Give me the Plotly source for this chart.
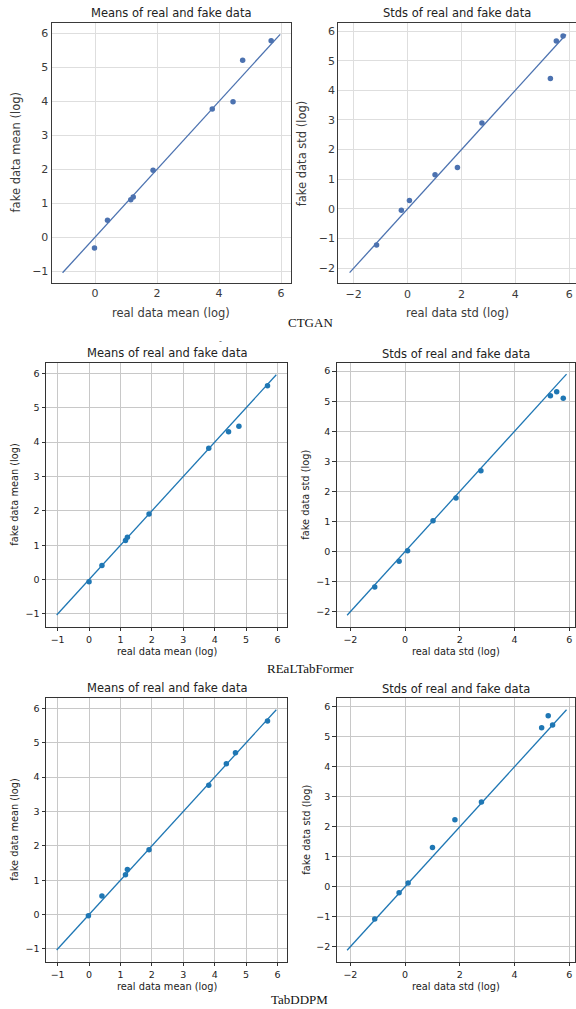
import plotly.graph_objects as go

# ---------------- data ----------------
models = ["CTGAN", "REaLTabFormer", "TabDDPM"]

ctgan_mean_real = [-0.02, 0.40, 1.15, 1.23, 1.87, 3.78, 4.45, 4.76, 5.68]
ctgan_mean_fake = [-0.32, 0.50, 1.10, 1.18, 1.97, 3.77, 3.99, 5.21, 5.78]
ctgan_std_real = [-1.15, -0.23, 0.07, 1.02, 1.85, 2.76, 5.30, 5.52, 5.77]
ctgan_std_fake = [-1.22, -0.05, 0.28, 1.15, 1.40, 2.90, 4.40, 5.66, 5.83]

realtf_mean_real = [0.00, 0.41, 1.16, 1.22, 1.91, 3.81, 4.44, 4.77, 5.68]
realtf_mean_fake = [-0.06, 0.41, 1.14, 1.23, 1.91, 3.82, 4.30, 4.46, 5.64]
realtf_std_real = [-1.11, -0.22, 0.09, 1.02, 1.86, 2.77, 5.31, 5.54, 5.78]
realtf_std_fake = [-1.18, -0.32, 0.03, 1.02, 1.78, 2.69, 5.18, 5.31, 5.10]

tabddpm_mean_real = [-0.02, 0.41, 1.16, 1.22, 1.91, 3.81, 4.37, 4.66, 5.68]
tabddpm_mean_fake = [-0.03, 0.54, 1.16, 1.31, 1.89, 3.76, 4.39, 4.71, 5.63]
tabddpm_std_real = [-1.11, -0.22, 0.11, 1.00, 1.82, 2.79, 4.99, 5.23, 5.39]
tabddpm_std_fake = [-1.08, -0.20, 0.12, 1.31, 2.23, 2.82, 5.30, 5.70, 5.39]

mean_line_1 = [-1.05, 5.97]
std_line_1 = [-2.15, 5.88]
mean_line_2 = [-1.03, 5.96]
std_line_2 = [-2.12, 5.90]
mean_line_3 = [-1.03, 5.96]
std_line_3 = [-2.12, 5.90]

titles = ["Means of real and fake data", "Stds of real and fake data"]
xlabels = ["real data mean (log)", "real data std (log)"]
ylabels = ["fake data mean (log)", "fake data std (log)"]

# ---------------- layout geometry ----------------
W, H = 576, 1009

def px_x(v):
    return v / W

def px_y(v):
    return 1 - v / H

panels = [
    (ctgan_mean_real, ctgan_mean_fake, mean_line_1, 0, 0, (51.7, 290.7), (22.5, 283), (-1.40, 6.31), (-1.35, 6.32), [0, 2, 4, 6], [-1, 0, 1, 2, 3, 4, 5, 6], "sns"),
    (ctgan_std_real, ctgan_std_fake, std_line_1, 0, 1, (338.3, 576), (22.7, 283.3), (-2.57, 6.25), (-2.51, 6.28), [-2, 0, 2, 4, 6], [-2, -1, 0, 1, 2, 3, 4, 5, 6], "sns"),
    (realtf_mean_real, realtf_mean_fake, mean_line_2, 1, 0, (46, 287.3), (362.7, 626.7), (-1.37, 6.31), (-1.37, 6.31), [-1, 0, 1, 2, 3, 4, 5, 6], [-1, 0, 1, 2, 3, 4, 5, 6], "mpl"),
    (realtf_std_real, realtf_std_fake, std_line_2, 1, 1, (336.7, 575.3), (363.3, 626.7), (-2.50, 6.22), (-2.50, 6.26), [-2, 0, 2, 4, 6], [-2, -1, 0, 1, 2, 3, 4, 5, 6], "mpl"),
    (tabddpm_mean_real, tabddpm_mean_fake, mean_line_3, 2, 0, (46, 287.3), (697.7, 961.7), (-1.37, 6.31), (-1.37, 6.31), [-1, 0, 1, 2, 3, 4, 5, 6], [-1, 0, 1, 2, 3, 4, 5, 6], "mpl"),
    (tabddpm_std_real, tabddpm_std_fake, std_line_3, 2, 1, (336.7, 575.3), (698.3, 961.7), (-2.50, 6.22), (-2.50, 6.28), [-2, 0, 2, 4, 6], [-2, -1, 0, 1, 2, 3, 4, 5, 6], "mpl"),
]

fig = go.Figure()
layout = {}
annotations = []
FONT = "DejaVu Sans, Verdana, sans-serif"

for i, (xr, yf, ln, row, col, xd, yd, xrg, yrg, xt, yt, style) in enumerate(panels):
    n = "" if i == 0 else str(i + 1)
    xa, ya = "x" + n, "y" + n
    if style == "sns":
        color = "#4c72b0"
        grid = "#dedede"
        frame = "#3a3a3a"
        tickc = "#3a3a3a"
        tfs, lfs, titfs = 11, 11.5, 11.5
        ticks = ""
        tlen = 0
        fw = 1.3
    else:
        color = "#1f77b4"
        grid = "#c8c8c8"
        frame = "#333333"
        tickc = "#222222"
        tfs, lfs, titfs = 9.5, 9.8, 11.5
        ticks = "outside"
        tlen = 3.5
        fw = 1.0

    fig.add_trace(go.Scatter(x=ln, y=ln, mode="lines", xaxis=xa, yaxis=ya,
                             line=dict(color=color, width=1.3), showlegend=False,
                             hoverinfo="skip"))
    fig.add_trace(go.Scatter(x=xr, y=yf, mode="markers", xaxis=xa, yaxis=ya,
                             marker=dict(color=color, size=5.5, line=dict(width=0)),
                             showlegend=False, cliponaxis=False))

    common = dict(showgrid=True, gridcolor=grid, gridwidth=1, zeroline=False,
                  showline=True, linecolor=frame, linewidth=fw, mirror=True,
                  ticks=ticks, ticklen=tlen, tickwidth=0.8, tickcolor=frame,
                  ticklabeloverflow="allow",
                  tickfont=dict(family=FONT, size=tfs, color=tickc))
    layout["xaxis" + n] = dict(domain=[max(0, px_x(xd[0])), min(1, px_x(xd[1]))], range=list(xrg),
                               anchor=ya, tickvals=xt,
                               ticktext=[str(v).replace("-", "\u2212") for v in xt],
                               **common)
    layout["yaxis" + n] = dict(domain=[max(0, px_y(yd[1])), min(1, px_y(yd[0]))], range=list(yrg),
                               anchor=xa, tickvals=yt,
                               ticktext=[str(v).replace("-", "\u2212") for v in yt],
                               **common)

    cx = (xd[0] + xd[1]) / 2
    annotations.append(dict(text=titles[col], x=px_x(cx), y=px_y(yd[0] - 9.5), xref="paper", yref="paper",
                            xanchor="center", yanchor="middle", showarrow=False,
                            font=dict(family=FONT, size=titfs, color="#222222")))
    xoff = 30 if style == "sns" else 25
    annotations.append(dict(text=xlabels[col], x=px_x(cx), y=px_y(yd[1] + xoff), xref="paper", yref="paper",
                            xanchor="center", yanchor="middle", showarrow=False,
                            font=dict(family=FONT, size=lfs, color=tickc)))
    yoff = 36 if style == "sns" else 31
    annotations.append(dict(text=ylabels[col], x=px_x(xd[0] - yoff), y=px_y((yd[0] + yd[1]) / 2),
                            xref="paper", yref="paper", textangle=-90,
                            xanchor="center", yanchor="middle", showarrow=False,
                            font=dict(family=FONT, size=lfs, color=tickc)))

caption_pos = [(310, 323), (310, 668), (299, 999)]
for name, (cx, cy) in zip(models, caption_pos):
    annotations.append(dict(text=name, x=px_x(cx), y=px_y(cy), xref="paper", yref="paper",
                            xanchor="center", yanchor="middle", showarrow=False,
                            font=dict(family="Liberation Serif, Times New Roman, serif", size=13, color="#111111")))

annotations.append(dict(text="-", x=px_x(220), y=px_y(341), xref="paper", yref="paper",
                        xanchor="center", yanchor="middle", showarrow=False,
                        font=dict(family=FONT, size=8, color="#555555")))

fig.update_layout(width=W, height=H, margin=dict(l=0, r=0, t=0, b=0),
                  paper_bgcolor="white", plot_bgcolor="white",
                  annotations=annotations, **layout)

fig.write_html("out.html",
               config={"displayModeBar": False},
               post_script="document.body.style.margin='0';document.body.style.overflow='hidden';")
